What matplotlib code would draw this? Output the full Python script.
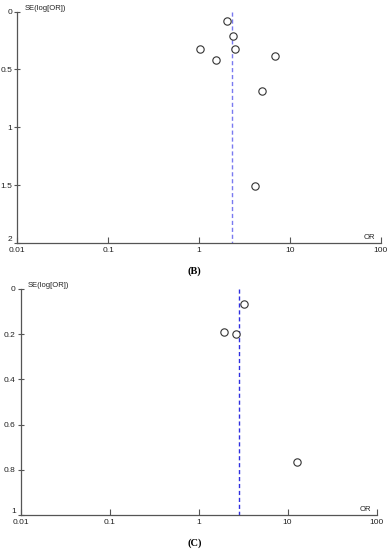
import matplotlib
matplotlib.use("Agg")
import matplotlib.pyplot as plt
from matplotlib.ticker import FixedLocator, FixedFormatter, NullLocator

# --- Data ---
# Panel B
or_b = [2.03, 2.36, 2.49, 1.03, 1.54, 6.84, 4.92, 4.09]
se_b = [0.08, 0.21, 0.325, 0.325, 0.42, 0.386, 0.688, 1.508]
pooled_b = 2.29
yticks_b = [0, 0.5, 1, 1.5, 2]
ylabels_b = ["0", "0.5", "1", "1.5", "2"]

# Panel C
or_c = [3.2, 1.93, 2.65, 12.7]
se_c = [0.068, 0.192, 0.198, 0.764]
pooled_c = 2.84
yticks_c = [0, 0.2, 0.4, 0.6, 0.8, 1]
ylabels_c = ["0", "0.2", "0.4", "0.6", "0.8", "1"]

xticks = [0.01, 0.1, 1, 10, 100]
xlabels = ["0.01", "0.1", "1", "10", "100"]

sans = "Liberation Sans"
axis_col = "#555555"


def funnel(ax, ors, ses, pooled, yt, yl, ymax, line_col, caption, cap_y):
    ax.scatter(ors, ses, s=28, facecolors="white", edgecolors="#333333",
               linewidths=0.8, zorder=3)
    ax.plot([pooled, pooled], [0, ymax], color=line_col, linestyle=(0, (3, 2)),
            linewidth=1.0, zorder=2)
    ax.set_xscale("log")
    ax.set_xlim(0.01, 100)
    ax.set_ylim(ymax, 0)
    ax.xaxis.set_major_locator(FixedLocator(xticks))
    ax.xaxis.set_major_formatter(FixedFormatter(xlabels))
    ax.xaxis.set_minor_locator(NullLocator())
    ax.yaxis.set_major_locator(FixedLocator(yt))
    ax.yaxis.set_major_formatter(FixedFormatter(yl))
    for side in ["top", "right"]:
        ax.spines[side].set_visible(False)
    for side in ["left", "bottom"]:
        ax.spines[side].set_color(axis_col)
        ax.spines[side].set_linewidth(0.9)
    ax.tick_params(axis="x", direction="in", length=4, width=0.8,
                   colors=axis_col, labelcolor="#222222", labelsize=6, pad=3)
    ax.tick_params(axis="y", direction="inout", length=5, width=0.8,
                   colors=axis_col, labelcolor="#222222", labelsize=6, pad=1)
    for lab in ax.get_xticklabels() + ax.get_yticklabels():
        lab.set_family(sans)
    # the bottom y label sits just above the x axis labels
    ax.get_yticklabels()[-1].set_verticalalignment("bottom")
    ax.text(0.012, 0.0, "SE(log[OR])", fontsize=5.5, family=sans,
            color="#222222", ha="left", va="bottom", transform=ax.transData)
    ax.text(0.985, 0.01, "OR", fontsize=5.5, family=sans, color="#222222",
            ha="right", va="bottom", transform=ax.transAxes)
    ax.figure.text(0.5, cap_y, caption, fontsize=7.5, family="Liberation Serif",
                   fontweight="bold", ha="center", va="center")


fig = plt.figure(figsize=(3.89, 5.50), dpi=100)

ax1 = fig.add_axes([0.0445, 0.558, 0.9345, 0.421])
funnel(ax1, or_b, se_b, pooled_b, yticks_b, ylabels_b, 2, "#7a7af0",
       "(B)", 1 - 271 / 550)

ax2 = fig.add_axes([0.053, 0.0636, 0.915, 0.411])
funnel(ax2, or_c, se_c, pooled_c, yticks_c, ylabels_c, 1, "#2f2fe0",
       "(C)", 1 - 543 / 550)

fig.savefig("out.png", dpi=100)
